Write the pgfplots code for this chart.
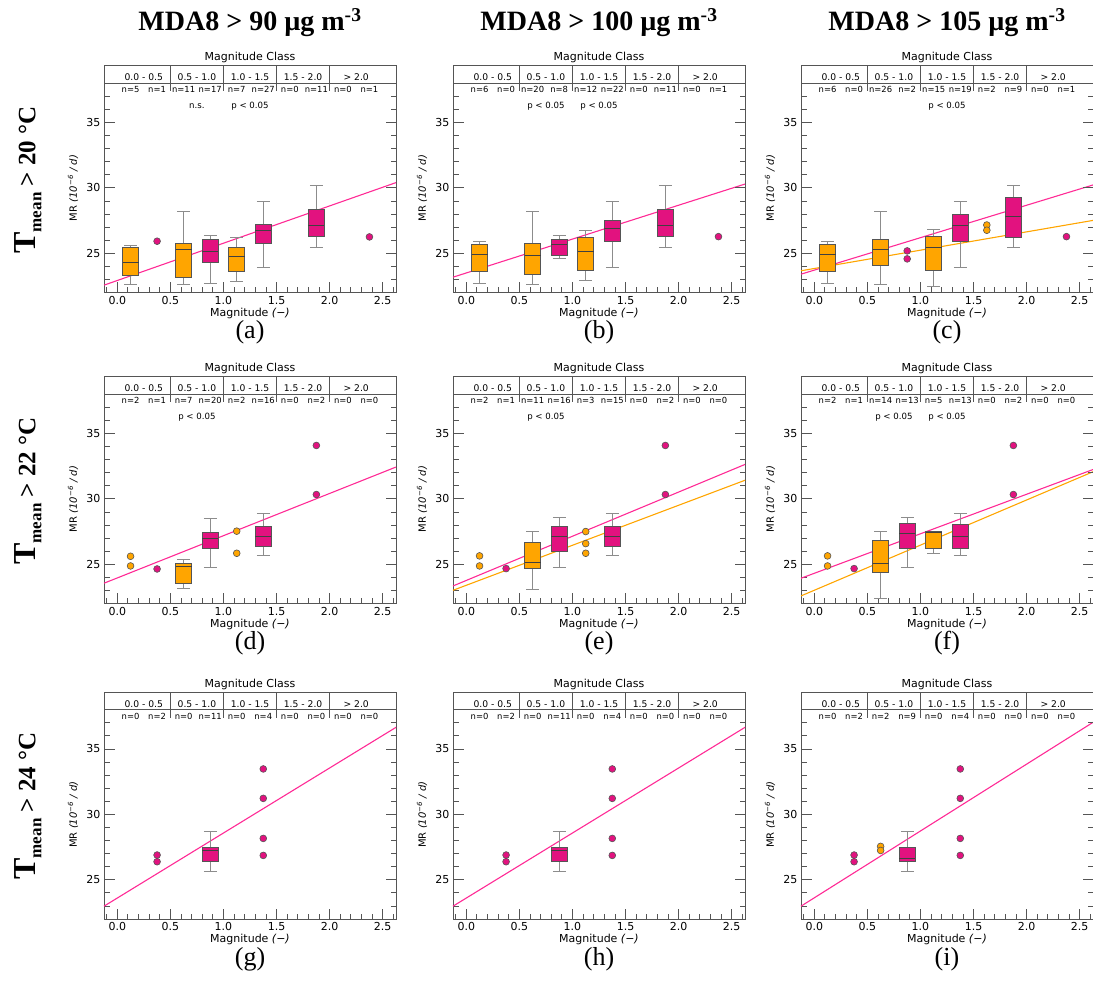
\documentclass[border=0pt]{standalone}
\usepackage{fontspec}
\setmainfont{DejaVu Sans}
\newfontfamily\serif{Liberation Serif}
\usepackage{pgfplots}
\pgfplotsset{compat=1.18}

\definecolor{cOr}{HTML}{FFA500}
\definecolor{cMag}{HTML}{E2127F}
\definecolor{cLine}{HTML}{FF2A95}
\definecolor{cEdge}{HTML}{555555}

\tikzset{
  hdr/.style={cEdge, line width=0.9pt},
  clab/.style={anchor=base, font=\fontsize{9.2}{9.2}\selectfont, inner sep=0pt},
  nlab/.style={anchor=base, font=\fontsize{8.4}{8.4}\selectfont, inner sep=0pt},
  plab/.style={anchor=base, font=\fontsize{8.6}{8.6}\selectfont, inner sep=0pt},
  ttl/.style={anchor=base, yshift=4.7pt, font=\fontsize{11}{11}\selectfont, inner sep=0pt},
  ylab/.style={anchor=east, xshift=-3.5pt, font=\fontsize{11}{11}\selectfont, inner sep=0pt},
  rtick/.style={cEdge, line width=0.8pt},
}

\pgfplotsset{
  panel/.style={
    scale only axis, width=292pt, height=227pt,
    xmin=-0.125, xmax=2.625, ymin=22, ymax=39.35,
    clip=false,
    xtick={0,0.5,1,1.5,2,2.5},
    minor xtick={-0.1,0.1,0.2,0.3,0.4,0.6,0.7,0.8,0.9,1.1,1.2,1.3,1.4,1.6,1.7,1.8,1.9,2.1,2.2,2.3,2.4,2.6},
    ytick={25,30,35}, yticklabels={},
    minor ytick={23,24,26,27,28,29,31,32,33,34,36,37},
    tick align=inside, xtick pos=left, ytick pos=left,
    major tick length=10.5pt, minor tick length=5.5pt,
    every tick/.style={cEdge, line width=0.8pt},
    axis line style={cEdge, line width=0.9pt},
    tick label style={font=\fontsize{11}{11}\selectfont},
    /pgf/number format/assume math mode=true,
    xticklabel style={/pgf/number format/.cd, fixed, fixed zerofill, precision=1},
    xlabel={Magnitude \textit{(−)}},
    ylabel={MR \textit{(10\textsuperscript{−6} / d)}},
    xlabel style={at={(axis description cs:0.5,-0.092)}, anchor=center, font=\fontsize{11}{11}\selectfont},
    ylabel style={at={(axis description cs:-0.106,0.46)}, anchor=center, font=\fontsize{10}{10}\selectfont},
  }
}

% box: colour, position, lower whisker, q1, median, q3, upper whisker
\newcommand{\bx}[7]{%
  \pgfmathsetmacro\bxl{#2-0.075}\pgfmathsetmacro\bxr{#2+0.075}%
  \pgfmathsetmacro\cpl{#2-0.06}\pgfmathsetmacro\cpr{#2+0.06}%
  \addplot[black!45, line width=0.9pt] coordinates {(#2,#3) (#2,#4)};
  \addplot[black!45, line width=0.9pt] coordinates {(#2,#6) (#2,#7)};
  \addplot[black!45, line width=0.9pt] coordinates {(\cpl,#3) (\cpr,#3)};
  \addplot[black!45, line width=0.9pt] coordinates {(\cpl,#7) (\cpr,#7)};
  \addplot[fill=#1, draw=cEdge, line width=0.8pt] coordinates {(\bxl,#4) (\bxr,#4) (\bxr,#6) (\bxl,#6)} --cycle;
  \addplot[black!75, line width=0.9pt] coordinates {(\bxl,#5) (\bxr,#5)};
}
\newcommand{\pts}[2]{\addplot[only marks, mark=*, mark size=3.4pt, mark options={fill=#1, draw=cEdge, line width=0.6pt}] coordinates {#2};}
\newcommand{\reg}[3]{\addplot[#1, line width=1.1pt] coordinates {(-0.125,#2) (2.625,#3)};}

\newcommand{\hdr}{%
  \draw[hdr] (axis cs:-0.125,38) -- (axis cs:2.625,38);
  \draw[hdr] (axis cs:0.5,39.35) -- (axis cs:0.5,37.4);
  \draw[hdr] (axis cs:1.0,39.35) -- (axis cs:1.0,37.4);
  \draw[hdr] (axis cs:1.5,39.35) -- (axis cs:1.5,37.4);
  \draw[hdr] (axis cs:2.0,39.35) -- (axis cs:2.0,37.4);
  \node[clab] at (axis cs:0.25,38.18) {0.0 - 0.5};
  \node[clab] at (axis cs:0.75,38.18) {0.5 - 1.0};
  \node[clab] at (axis cs:1.25,38.18) {1.0 - 1.5};
  \node[clab] at (axis cs:1.75,38.18) {1.5 - 2.0};
  \node[clab] at (axis cs:2.25,38.18) {> 2.0};
  \node[ttl] at (axis cs:1.25,39.35) {Magnitude Class};
  \node[ylab] at (axis cs:-0.125,25) {25};
  \node[ylab] at (axis cs:-0.125,30) {30};
  \node[ylab] at (axis cs:-0.125,35) {35};
  \draw[rtick] (axis cs:2.625,25) -- ++(-10.5pt,0pt);
  \draw[rtick] (axis cs:2.625,30) -- ++(-10.5pt,0pt);
  \draw[rtick] (axis cs:2.625,35) -- ++(-10.5pt,0pt);
  \draw[rtick] (axis cs:2.625,23) -- ++(-5.5pt,0pt);
  \draw[rtick] (axis cs:2.625,24) -- ++(-5.5pt,0pt);
  \draw[rtick] (axis cs:2.625,26) -- ++(-5.5pt,0pt);
  \draw[rtick] (axis cs:2.625,27) -- ++(-5.5pt,0pt);
  \draw[rtick] (axis cs:2.625,28) -- ++(-5.5pt,0pt);
  \draw[rtick] (axis cs:2.625,29) -- ++(-5.5pt,0pt);
  \draw[rtick] (axis cs:2.625,31) -- ++(-5.5pt,0pt);
  \draw[rtick] (axis cs:2.625,32) -- ++(-5.5pt,0pt);
  \draw[rtick] (axis cs:2.625,33) -- ++(-5.5pt,0pt);
  \draw[rtick] (axis cs:2.625,34) -- ++(-5.5pt,0pt);
  \draw[rtick] (axis cs:2.625,36) -- ++(-5.5pt,0pt);
  \draw[rtick] (axis cs:2.625,37) -- ++(-5.5pt,0pt);
}
\newcommand{\nA}[5]{%
  \node[nlab] at (axis cs:0.125,37.28) {n=#1};
  \node[nlab] at (axis cs:0.375,37.28) {n=#2};
  \node[nlab] at (axis cs:0.625,37.28) {n=#3};
  \node[nlab] at (axis cs:0.875,37.28) {n=#4};
  \node[nlab] at (axis cs:1.125,37.28) {n=#5};
}
\newcommand{\nB}[5]{%
  \node[nlab] at (axis cs:1.375,37.28) {n=#1};
  \node[nlab] at (axis cs:1.625,37.28) {n=#2};
  \node[nlab] at (axis cs:1.875,37.28) {n=#3};
  \node[nlab] at (axis cs:2.125,37.28) {n=#4};
  \node[nlab] at (axis cs:2.375,37.28) {n=#5};
}
\newcommand{\pl}[2]{\node[plab] at (axis cs:#1,36.05) {#2};}

\newcommand{\coltitle}[1]{{\serif\bfseries\fontsize{28}{28}\selectfont MDA8 > #1 µg m\textsuperscript{-3}}}
\newcommand{\rowtitle}[1]{{\serif\bfseries\fontsize{32}{32}\selectfont T\raisebox{-6pt}{\fontsize{17}{17}\selectfont mean}\fontsize{25}{25}\selectfont\ > #1 °C}}
\newcommand{\sub}[1]{{\serif\fontsize{26}{26}\selectfont (#1)}}

\begin{document}
\begin{tikzpicture}
\path[use as bounding box] (0,0) rectangle (1093pt,-985pt);

% ---------- row 1 ----------
\begin{axis}[panel, at={(104pt,-292.5pt)}, anchor=south west]
\reg{cLine}{22.56}{30.40}
\bx{cOr}{0.125}{22.65}{23.29}{24.31}{25.48}{25.56}
\bx{cOr}{0.625}{22.60}{23.14}{25.31}{25.79}{28.19}
\bx{cMag}{0.875}{22.70}{24.29}{25.13}{26.07}{26.35}
\bx{cOr}{1.125}{22.88}{23.62}{24.75}{25.48}{26.17}
\bx{cMag}{1.375}{23.88}{25.77}{26.76}{27.20}{28.93}
\bx{cMag}{1.875}{25.46}{26.30}{27.09}{28.37}{30.20}
\pts{cMag}{(0.375,25.92) (2.375,26.25)}
\hdr
\nA{5}{1}{11}{17}{7}\nB{27}{0}{11}{0}{1}
\pl{0.75}{n.s.}\pl{1.25}{p < 0.05}
\end{axis}

\begin{axis}[panel, at={(453pt,-292.5pt)}, anchor=south west]
\reg{cLine}{23.17}{30.29}
\bx{cOr}{0.125}{22.68}{23.65}{24.92}{25.69}{25.89}
\bx{cOr}{0.625}{22.63}{23.35}{24.82}{25.79}{28.18}
\bx{cMag}{0.875}{24.57}{24.82}{25.71}{26.09}{26.35}
\bx{cOr}{1.125}{22.91}{23.70}{25.10}{26.22}{26.76}
\bx{cMag}{1.375}{23.88}{25.87}{26.93}{27.52}{28.97}
\bx{cMag}{1.875}{25.48}{26.32}{27.11}{28.36}{30.19}
\pts{cMag}{(2.375,26.27)}
\hdr
\nA{6}{0}{20}{8}{12}\nB{22}{0}{11}{0}{1}
\pl{0.75}{p < 0.05}\pl{1.25}{p < 0.05}
\end{axis}

\begin{axis}[panel, at={(801pt,-292.5pt)}, anchor=south west]
\reg{cLine}{23.40}{30.22}
\reg{cOr}{23.66}{27.51}
\bx{cOr}{0.125}{22.68}{23.65}{24.92}{25.69}{25.94}
\bx{cOr}{0.625}{22.63}{24.06}{25.28}{26.04}{28.18}
\bx{cOr}{1.125}{22.46}{23.68}{25.41}{26.27}{26.81}
\bx{cMag}{1.375}{23.88}{25.89}{27.11}{27.98}{28.97}
\bx{cMag}{1.875}{25.48}{26.20}{27.82}{29.30}{30.19}
\pts{cMag}{(0.875,25.18) (0.875,24.57) (2.375,26.27)}
\pts{cOr}{(1.625,27.16) (1.625,26.76)}
\hdr
\nA{6}{0}{26}{2}{15}\nB{19}{2}{9}{0}{1}
\pl{1.25}{p < 0.05}
\end{axis}

% ---------- row 2 ----------
\begin{axis}[panel, at={(104pt,-603.5pt)}, anchor=south west]
\reg{cLine}{23.55}{32.43}
\bx{cOr}{0.625}{23.14}{23.55}{24.87}{25.08}{25.33}
\bx{cMag}{0.875}{24.77}{26.20}{26.99}{27.47}{28.52}
\bx{cMag}{1.375}{25.64}{26.40}{27.12}{27.91}{28.88}
\pts{cOr}{(0.125,25.61) (0.125,24.87) (1.125,27.53) (1.125,25.84)}
\pts{cMag}{(0.375,24.64) (1.875,34.08) (1.875,30.33)}
\hdr
\nA{2}{1}{7}{20}{2}\nB{16}{0}{2}{0}{0}
\pl{0.75}{p < 0.05}
\end{axis}

\begin{axis}[panel, at={(453pt,-603.5pt)}, anchor=south west]
\reg{cLine}{23.34}{32.63}
\reg{cOr}{23.01}{31.42}
\bx{cOr}{0.625}{23.11}{24.67}{25.15}{26.68}{27.47}
\bx{cMag}{0.875}{24.77}{25.97}{27.14}{27.88}{28.55}
\bx{cMag}{1.375}{25.66}{26.35}{27.14}{27.91}{28.85}
\pts{cOr}{(0.125,25.64) (0.125,24.87) (1.125,27.50) (1.125,26.58) (1.125,25.84)}
\pts{cMag}{(0.375,24.67) (1.875,34.08) (1.875,30.33)}
\hdr
\nA{2}{1}{11}{16}{3}\nB{15}{0}{2}{0}{0}
\pl{0.75}{p < 0.05}
\end{axis}

\begin{axis}[panel, at={(801pt,-603.5pt)}, anchor=south west]
\reg{cLine}{23.93}{32.24}
\reg{cOr}{22.58}{32.07}
\bx{cOr}{0.625}{22.35}{24.41}{25.05}{26.79}{27.47}
\bx{cMag}{0.875}{24.77}{26.25}{27.35}{28.14}{28.55}
\bx{cOr}{1.125}{25.84}{26.20}{27.45}{27.50}{27.53}
\bx{cMag}{1.375}{25.66}{26.25}{27.09}{28.01}{28.85}
\pts{cOr}{(0.125,25.64) (0.125,24.87)}
\pts{cMag}{(0.375,24.67) (1.875,34.08) (1.875,30.33)}
\hdr
\nA{2}{1}{14}{13}{5}\nB{13}{0}{2}{0}{0}
\pl{0.75}{p < 0.05}\pl{1.25}{p < 0.05}
\end{axis}

% ---------- row 3 ----------
\begin{axis}[panel, at={(104pt,-919pt)}, anchor=south west]
\reg{cLine}{22.98}{36.65}
\bx{cMag}{0.875}{25.64}{26.40}{27.22}{27.45}{28.67}
\pts{cMag}{(0.375,26.89) (0.375,26.38) (1.375,33.47) (1.375,31.22) (1.375,28.16) (1.375,26.86)}
\hdr
\nA{0}{2}{0}{11}{0}\nB{4}{0}{0}{0}{0}
\end{axis}

\begin{axis}[panel, at={(453pt,-919pt)}, anchor=south west]
\reg{cLine}{22.98}{36.65}
\bx{cMag}{0.875}{25.64}{26.40}{27.22}{27.45}{28.67}
\pts{cMag}{(0.375,26.89) (0.375,26.38) (1.375,33.47) (1.375,31.22) (1.375,28.16) (1.375,26.86)}
\hdr
\nA{0}{2}{0}{11}{0}\nB{4}{0}{0}{0}{0}
\end{axis}

\begin{axis}[panel, at={(801pt,-919pt)}, anchor=south west]
\reg{cLine}{22.98}{37.03}
\bx{cMag}{0.875}{25.64}{26.40}{26.61}{27.50}{28.67}
\pts{cMag}{(0.375,26.89) (0.375,26.38) (1.375,33.47) (1.375,31.22) (1.375,28.16) (1.375,26.86)}
\pts{cOr}{(0.625,27.55) (0.625,27.24)}
\hdr
\nA{0}{2}{2}{9}{0}\nB{4}{0}{0}{0}{0}
\end{axis}

% ---------- titles ----------
\node at (250pt,-23pt) {\coltitle{90}};
\node at (599pt,-23pt) {\coltitle{100}};
\node at (947pt,-23pt) {\coltitle{105}};
\node[rotate=90] at (28pt,-180pt) {\rowtitle{20}};
\node[rotate=90] at (28pt,-491pt) {\rowtitle{22}};
\node[rotate=90] at (28pt,-806pt) {\rowtitle{24}};
\node at (250pt,-332pt) {\sub{a}};
\node at (599pt,-332pt) {\sub{b}};
\node at (947pt,-332pt) {\sub{c}};
\node at (250pt,-643.5pt) {\sub{d}};
\node at (599pt,-643.5pt) {\sub{e}};
\node at (947pt,-643.5pt) {\sub{f}};
\node at (250pt,-959pt) {\sub{g}};
\node at (599pt,-959pt) {\sub{h}};
\node at (947pt,-959pt) {\sub{i}};
\end{tikzpicture}
\end{document}
